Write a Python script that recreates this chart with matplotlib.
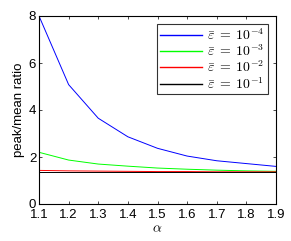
import matplotlib
matplotlib.use("Agg")
import matplotlib.pyplot as plt

plt.rcParams['font.family'] = ['Liberation Sans', 'DejaVu Sans']
plt.rcParams['mathtext.fontset'] = 'cm'

alpha = [1.1, 1.2, 1.3, 1.4, 1.5, 1.6, 1.7, 1.8, 1.9]
ratio_1e4 = [8.0, 5.08, 3.65, 2.86, 2.37, 2.04, 1.84, 1.72, 1.60]
ratio_1e3 = [2.2, 1.87, 1.70, 1.61, 1.53, 1.48, 1.44, 1.41, 1.39]
ratio_1e2 = [1.43, 1.41, 1.40, 1.39, 1.38, 1.38, 1.37, 1.37, 1.37]
ratio_1e1 = [1.35, 1.35, 1.35, 1.35, 1.35, 1.35, 1.35, 1.35, 1.35]

series = [
    (ratio_1e4, 'b', r'$\bar{\varepsilon}\;=\;10^{-4}$'),
    (ratio_1e3, '#00ff00', r'$\bar{\varepsilon}\;=\;10^{-3}$'),
    (ratio_1e2, 'r', r'$\bar{\varepsilon}\;=\;10^{-2}$'),
    (ratio_1e1, 'k', r'$\bar{\varepsilon}\;=\;10^{-1}$'),
]

fig = plt.figure(figsize=(2.91, 2.41), dpi=100)
ax = fig.add_axes([39 / 291, 1 - 204 / 241, 237 / 291, 188 / 241])

for vals, col, lab in series:
    ax.plot(alpha, vals, color=col, lw=0.7, label=lab)

ax.set_xlim(1.1, 1.9)
ax.set_ylim(0, 8)
ax.set_xticks(alpha)
ax.set_yticks([0, 2, 4, 6, 8])
ax.tick_params(direction='in', top=True, right=True, labelsize=9.5, length=2.5, width=0.5, pad=2)
ax.tick_params(axis='x', pad=3.5)
for s in ax.spines.values():
    s.set_linewidth(0.8)

ax.set_xlabel(r'$\alpha$', fontsize=10, labelpad=0)
ax.set_ylabel('peak/mean ratio', fontsize=9.5, labelpad=3)

leg = ax.legend(loc='upper right', fontsize=10, frameon=True, fancybox=False,
                edgecolor='k', handlelength=3.0, borderpad=0.2, labelspacing=0.05,
                handletextpad=0.4, borderaxespad=0.6)
leg.get_frame().set_linewidth(0.8)
# legend handles keep the series colours
for h, (vals, col, lab) in zip(leg.get_lines(), series):
    h.set_color(col)
    h.set_linewidth(1.0)

fig.savefig('out.png', dpi=100)
